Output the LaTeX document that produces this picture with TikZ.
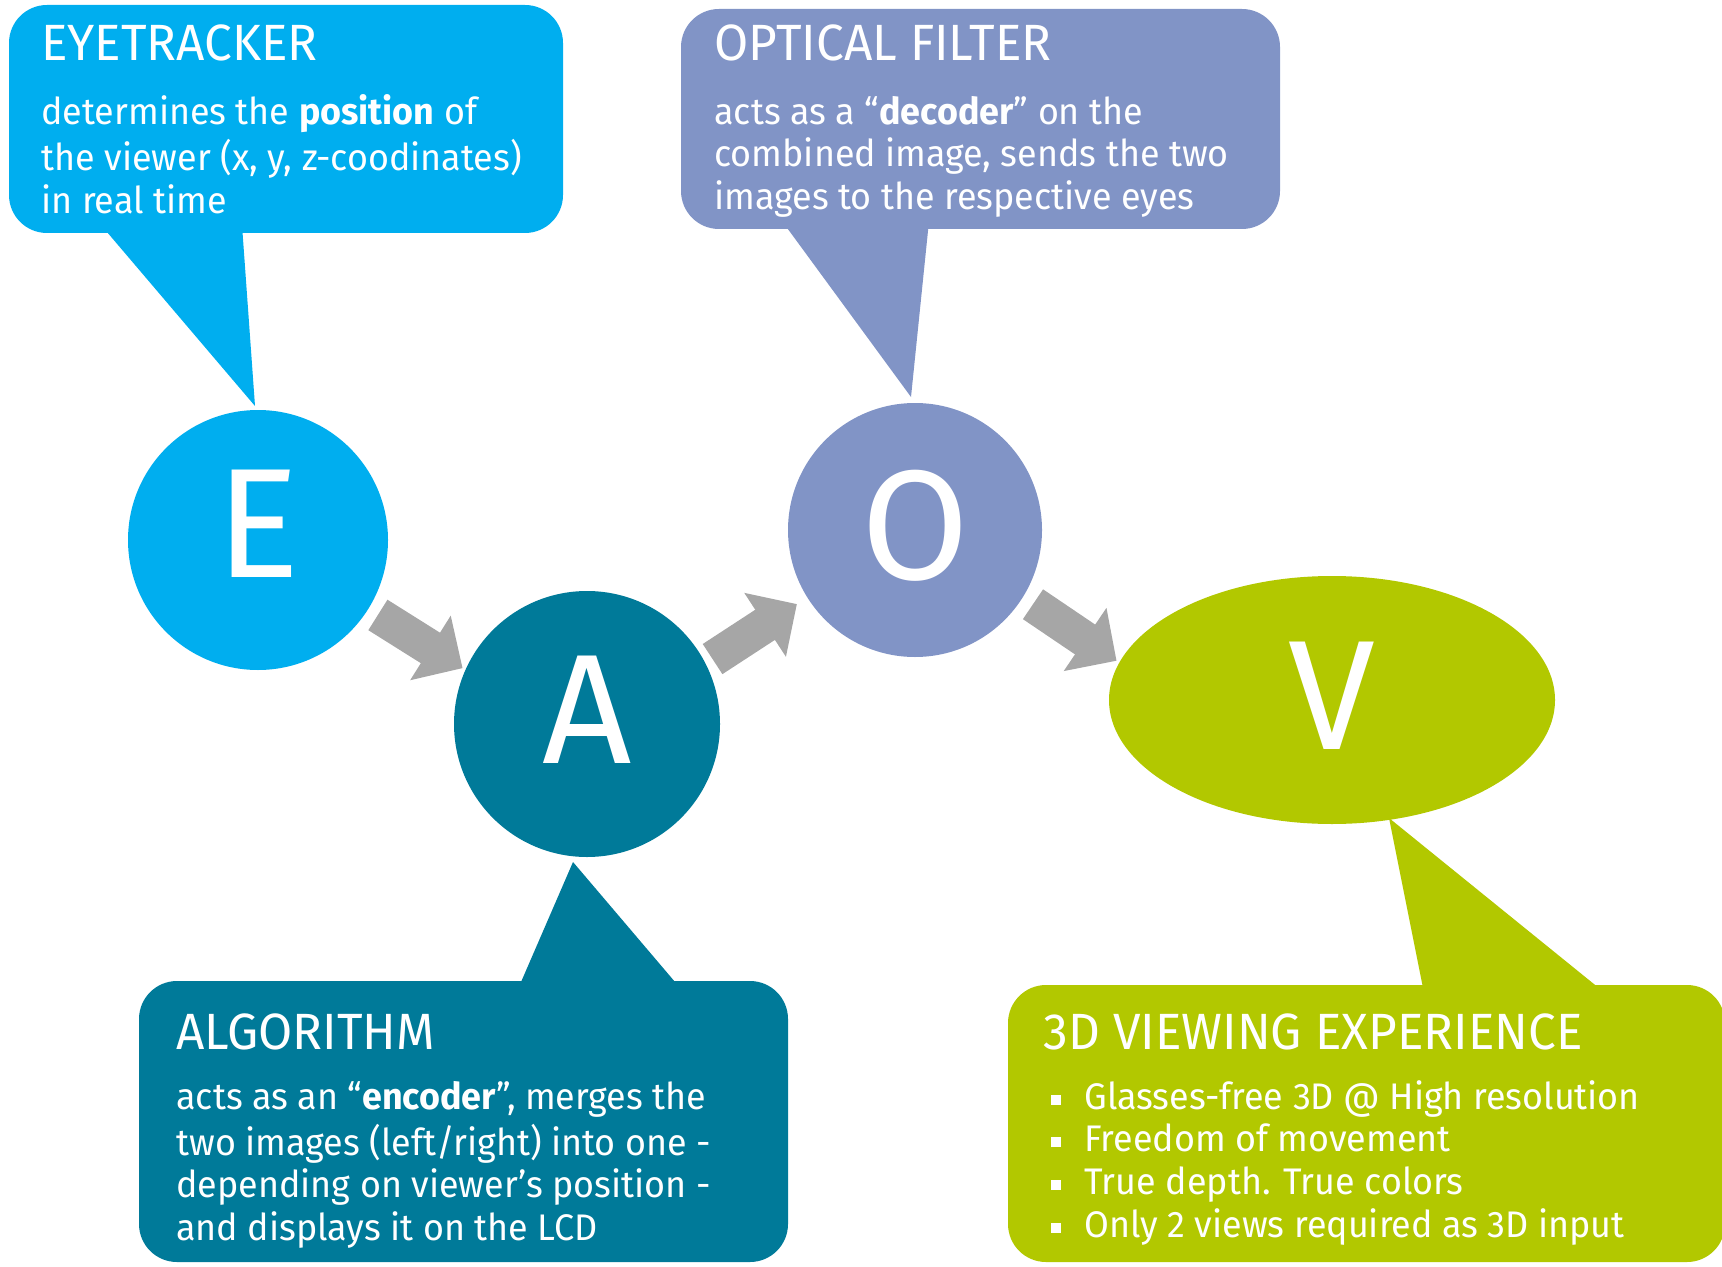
\documentclass[tikz,border=0pt]{standalone}
\usepackage{fontspec}
\setmainfont{Fira Sans}[FakeStretch=0.97]
\newfontfamily\letterfont{Fira Sans}
\usetikzlibrary{arrows.meta,shapes.geometric,positioning,calc}

\definecolor{eyeblue}{HTML}{00AEEF}
\definecolor{algoteal}{HTML}{007A99}
\definecolor{filterblue}{HTML}{8194C6}
\definecolor{viewgreen}{HTML}{B2C800}
\definecolor{flowgray}{HTML}{A6A6A6}

\newcommand{\squarebullet}{\rule[2.2pt]{5pt}{5pt}\hspace{11.5pt}}

\begin{document}
\begin{tikzpicture}[x=0.5pt, y=-0.5pt,
    bubble/.style={rectangle, rounded corners=19pt, inner sep=0pt},
    title/.style={anchor=base west, inner sep=0pt, text=white, font=\fontsize{25.5}{30}\selectfont},
    body/.style={anchor=north west, inner sep=0pt, text=white, align=left, font=\fontsize{18.5}{21.3}\selectfont},
    stage/.style={circle, inner sep=0pt, text=white, font=\letterfont\fontsize{78}{80}\selectfont},
    flow/.style={draw=flowgray, line width=18pt, -{Triangle[length=19pt,width=37pt]}}
]
\useasboundingbox (0,0) rectangle (1722,1267);

% Speech bubbles
\node[bubble, fill=eyeblue, minimum width=277pt, minimum height=114pt] (eyebox) at (286,119) {};
\node[bubble, fill=filterblue, minimum width=299.5pt, minimum height=110pt] (filterbox) at (980.5,119) {};
\node[bubble, fill=algoteal, minimum width=324.5pt, minimum height=140.5pt] (algobox) at (463.5,1121.5) {};
\node[bubble, fill=viewgreen, minimum width=358.5pt, minimum height=138.5pt] (viewbox) at (1366.5,1123.5) {};

% Bubble tails
\fill[eyeblue] (101,225) -- (242,225) -- (255,406) -- cycle;
\fill[filterblue] (782,221) -- (929,221) -- (911,397) -- cycle;
\fill[algoteal] (518,989) -- (681,989) -- (573,862) -- cycle;
\fill[viewgreen] (1424,993) -- (1605,993) -- (1389,818) -- cycle;

% Stages
\node[stage, fill=eyeblue, minimum size=130pt, text depth=16pt] (e) at (258,540) {E};
\node[stage, fill=algoteal, minimum size=133pt, text depth=14pt] (a) at (587,724) {A};
\node[stage, fill=filterblue, minimum size=127pt, text depth=5pt] (o) at (915,530) {O};
\node[stage, ellipse, fill=viewgreen, minimum width=223pt, minimum height=124pt, text depth=4pt] (v) at (1332,700) {V};

% Flow arrows
\draw[flow, shorten <=5.5pt, shorten >=1.5pt] (e.-32) -- (a.156);
\draw[flow, shorten <=4pt, shorten >=6pt] (a.27) -- (o.212);
\draw[flow, shorten <=6pt, shorten >=1.5pt] (o.-32) -- (v.170);

% Texts
\node[title] (eyetitle) at (41,61) {EYETRACKER};
\node[body] (eyetext) at (41,94) {\strut determines the \textbf{position} of\\ the viewer (x, y, z-coodinates)\\ in real time};

\node[title] (filtertitle) at (714,61) {OPTICAL FILTER};
\node[body] (filtertext) at (714,94) {\strut acts as a “\textbf{decoder}” on the\\ combined image, sends the two\\ images to the respective eyes};

\node[title] (algotitle) at (176,1049) {ALGORITHM};
\node[body] (algotext) at (176,1079) {\strut acts as an “\textbf{encoder}”, merges the\\ two images (left/right) into one -\\ depending on viewer’s position -\\ and displays it on the LCD};

\node[title] (viewtitle) at (1043,1049) {3D VIEWING EXPERIENCE};
\node[body] (viewtext) at (1051,1079) {\strut\squarebullet Glasses-free 3D @ High resolution\\ \squarebullet Freedom of movement\\ \squarebullet True depth. True colors\\ \squarebullet Only 2 views required as 3D input};

\end{tikzpicture}
\end{document}
